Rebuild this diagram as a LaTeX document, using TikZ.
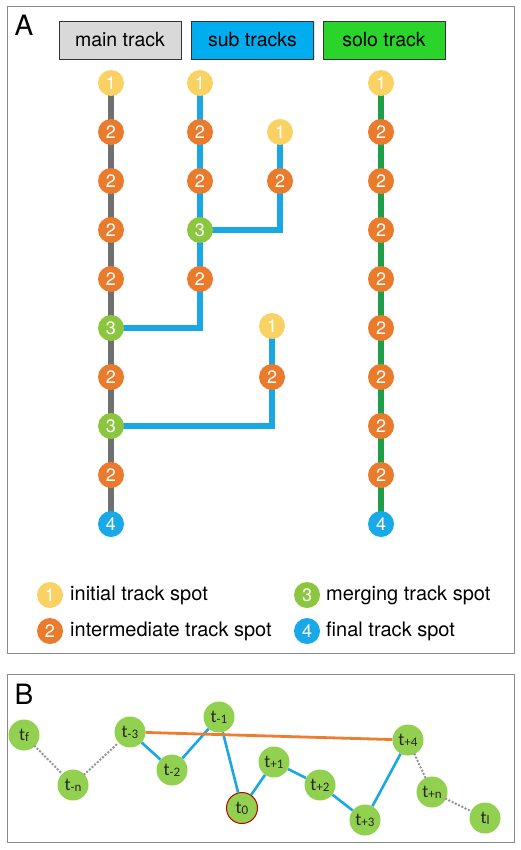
\documentclass[tikz,border=0pt]{standalone}
\usepackage{fontspec}
\setmainfont{TeX Gyre Heros}
\newfontfamily\calib{Carlito}
\usetikzlibrary{backgrounds,shadows}
\definecolor{frameg}{HTML}{8A8A8A}
\definecolor{hdrgray}{HTML}{D9D9D9}
\definecolor{hdrblue}{HTML}{00AEEF}
\definecolor{hdrgreen}{HTML}{2AD42A}
\definecolor{spy}{HTML}{FAD264}
\definecolor{spo}{HTML}{EA7B2C}
\definecolor{spg}{HTML}{8CC63F}
\definecolor{spb}{HTML}{1AA9E8}
\definecolor{lgray}{HTML}{707070}
\definecolor{lblue}{HTML}{19A8E4}
\definecolor{lgreen}{HTML}{1E9E48}
\definecolor{bgreen}{HTML}{92D050}
\definecolor{borange}{HTML}{ED7D31}
\definecolor{bred}{HTML}{C00000}
\newcommand\tlab[1]{t\raisebox{-1pt}{\fontsize{13}{13}\selectfont #1}}
\tikzset{
  panel/.style={draw=frameg, line width=1pt},
  plabel/.style={font=\fontsize{28}{28}\selectfont, inner sep=0},
  hdr/.style={draw=black!80, line width=0.8pt, minimum width=122, minimum height=38, inner sep=0,
     font=\fontsize{19.5}{19.5}\selectfont, drop shadow={opacity=0.25, shadow xshift=1.2pt, shadow yshift=-1.2pt}},
  spot/.style={circle, minimum size=26, inner sep=0, text=white, font=\fontsize{18}{18}\selectfont},
  s1/.style={spot, fill=spy},
  s2/.style={spot, fill=spo},
  s3/.style={spot, fill=spg},
  s4/.style={spot, fill=spb},
  mainln/.style={draw=lgray, line width=6pt},
  subln/.style={draw=lblue, line width=6pt},
  sololn/.style={draw=lgreen, line width=6pt},
  legtxt/.style={anchor=west, inner sep=0, font=\fontsize{20}{20}\selectfont},
  bnode/.style={circle, fill=bgreen, minimum size=31, inner sep=0, text=black!85, font=\calib\fontsize{18}{18}\selectfont},
  bline/.style={draw=lblue, line width=2.6pt},
  oline/.style={draw=borange, line width=2.8pt},
  dline/.style={draw=gray!85, line width=2.8pt, dash pattern=on 0pt off 3.6pt, line cap=round},
}
\begin{document}
\begin{tikzpicture}[x=1pt, y=-1pt]
\useasboundingbox (0,0) rectangle (521,850);
% panels
\draw[panel] (7,7) rectangle (514,653);
\draw[panel] (7,674) rectangle (514,842);
\node[plabel] (A) at (24,25) {A};
\node[plabel] (B) at (24,694) {B};
% headers
\node[hdr, fill=hdrgray] (h1) at (120,40) {main track};
\node[hdr, fill=hdrblue] (h2) at (252.5,40) {sub tracks};
\node[hdr, fill=hdrgreen] (h3) at (384,40) {solo track};
% main track
\node[s1] (m0) at (111,83) {1};
\node[s2] (m1) at (111,132) {2};
\node[s2] (m2) at (111,181) {2};
\node[s2] (m3) at (111,230) {2};
\node[s2] (m4) at (111,279) {2};
\node[s3] (m5) at (111,328) {3};
\node[s2] (m6) at (111,377) {2};
\node[s3] (m7) at (111,426) {3};
\node[s2] (m8) at (111,475) {2};
\node[s4] (m9) at (111,524) {4};
% sub tracks
\node[s1] (s0) at (200,83) {1};
\node[s2] (sa) at (200,132) {2};
\node[s2] (sb) at (200,181) {2};
\node[s3] (sc) at (200,230) {3};
\node[s2] (sd) at (200,279) {2};
\node[s1] (r1) at (280,132) {1};
\node[s2] (r2) at (280,181) {2};
\node[s1] (q5) at (272,326) {1};
\node[s2] (q6) at (272,377) {2};
% solo
\node[s1] (o0) at (381,83) {1};
\foreach \i/\y in {1/132,2/181,3/230,4/279,5/328,6/377,7/426,8/475}
  \node[s2] (o\i) at (381,\y) {2};
\node[s4] (o9) at (381,524) {4};
\begin{scope}[on background layer]
  \draw[mainln] (m0.center) -- (m9.center);
  \draw[subln] (s0.center) -- (sd.center) -- (sd.center |- m5.center) -- (m5.center);
  \draw[subln] (r1.center) -- (r2.center) |- (sc.center);
  \draw[subln] (q5.center) -- (q6.center) |- (m7.center);
  \draw[sololn] (o0.center) -- (o9.center);
\end{scope}
% legend
\node[s1] (l1) at (50,595) {1};
\node[legtxt] (lt1) at (70,595) {initial track spot};
\node[s2] (l2) at (50,631) {2};
\node[legtxt] (lt2) at (70,631) {intermediate track spot};
\node[s3] (l3) at (307,595) {3};
\node[legtxt] (lt3) at (326,595) {merging track spot};
\node[s4] (l4) at (307,631) {4};
\node[legtxt] (lt4) at (326,631) {final track spot};
% panel B
\node[bnode] (tf) at (24,735) {\tlab{f}};
\node[bnode] (tmn) at (73,785) {\tlab{-n}};
\node[bnode] (tm3) at (130,732) {\tlab{-3}};
\node[bnode] (tm2) at (172,770) {\tlab{-2}};
\node[bnode] (tm1) at (219,717) {\tlab{-1}};
\node[bnode, draw=bred, line width=1pt] (t0) at (242,808) {\tlab{0}};
\node[bnode] (tp1) at (274,762) {\tlab{+1}};
\node[bnode] (tp2) at (320,785) {\tlab{+2}};
\node[bnode] (tp3) at (365,820) {\tlab{+3}};
\node[bnode] (tp4) at (408,740) {\tlab{+4}};
\node[bnode] (tpn) at (432,792) {\tlab{+n}};
\node[bnode] (tl) at (485,818) {\tlab{l}};
\draw[dline] (tf) -- (tmn);
\draw[dline] (tmn) -- (tm3);
\draw[dline] (tp4) -- (tpn);
\draw[dline] (tpn) -- (tl);
\draw[bline] (tm3) -- (tm2);
\draw[bline] (tm2) -- (tm1);
\draw[bline] (tm1) -- (t0);
\draw[bline] (t0) -- (tp1);
\draw[bline] (tp1) -- (tp2);
\draw[bline] (tp2) -- (tp3);
\draw[bline] (tp3) -- (tp4);
\draw[oline] (tm3) -- (tp4);
\end{tikzpicture}
\end{document}
